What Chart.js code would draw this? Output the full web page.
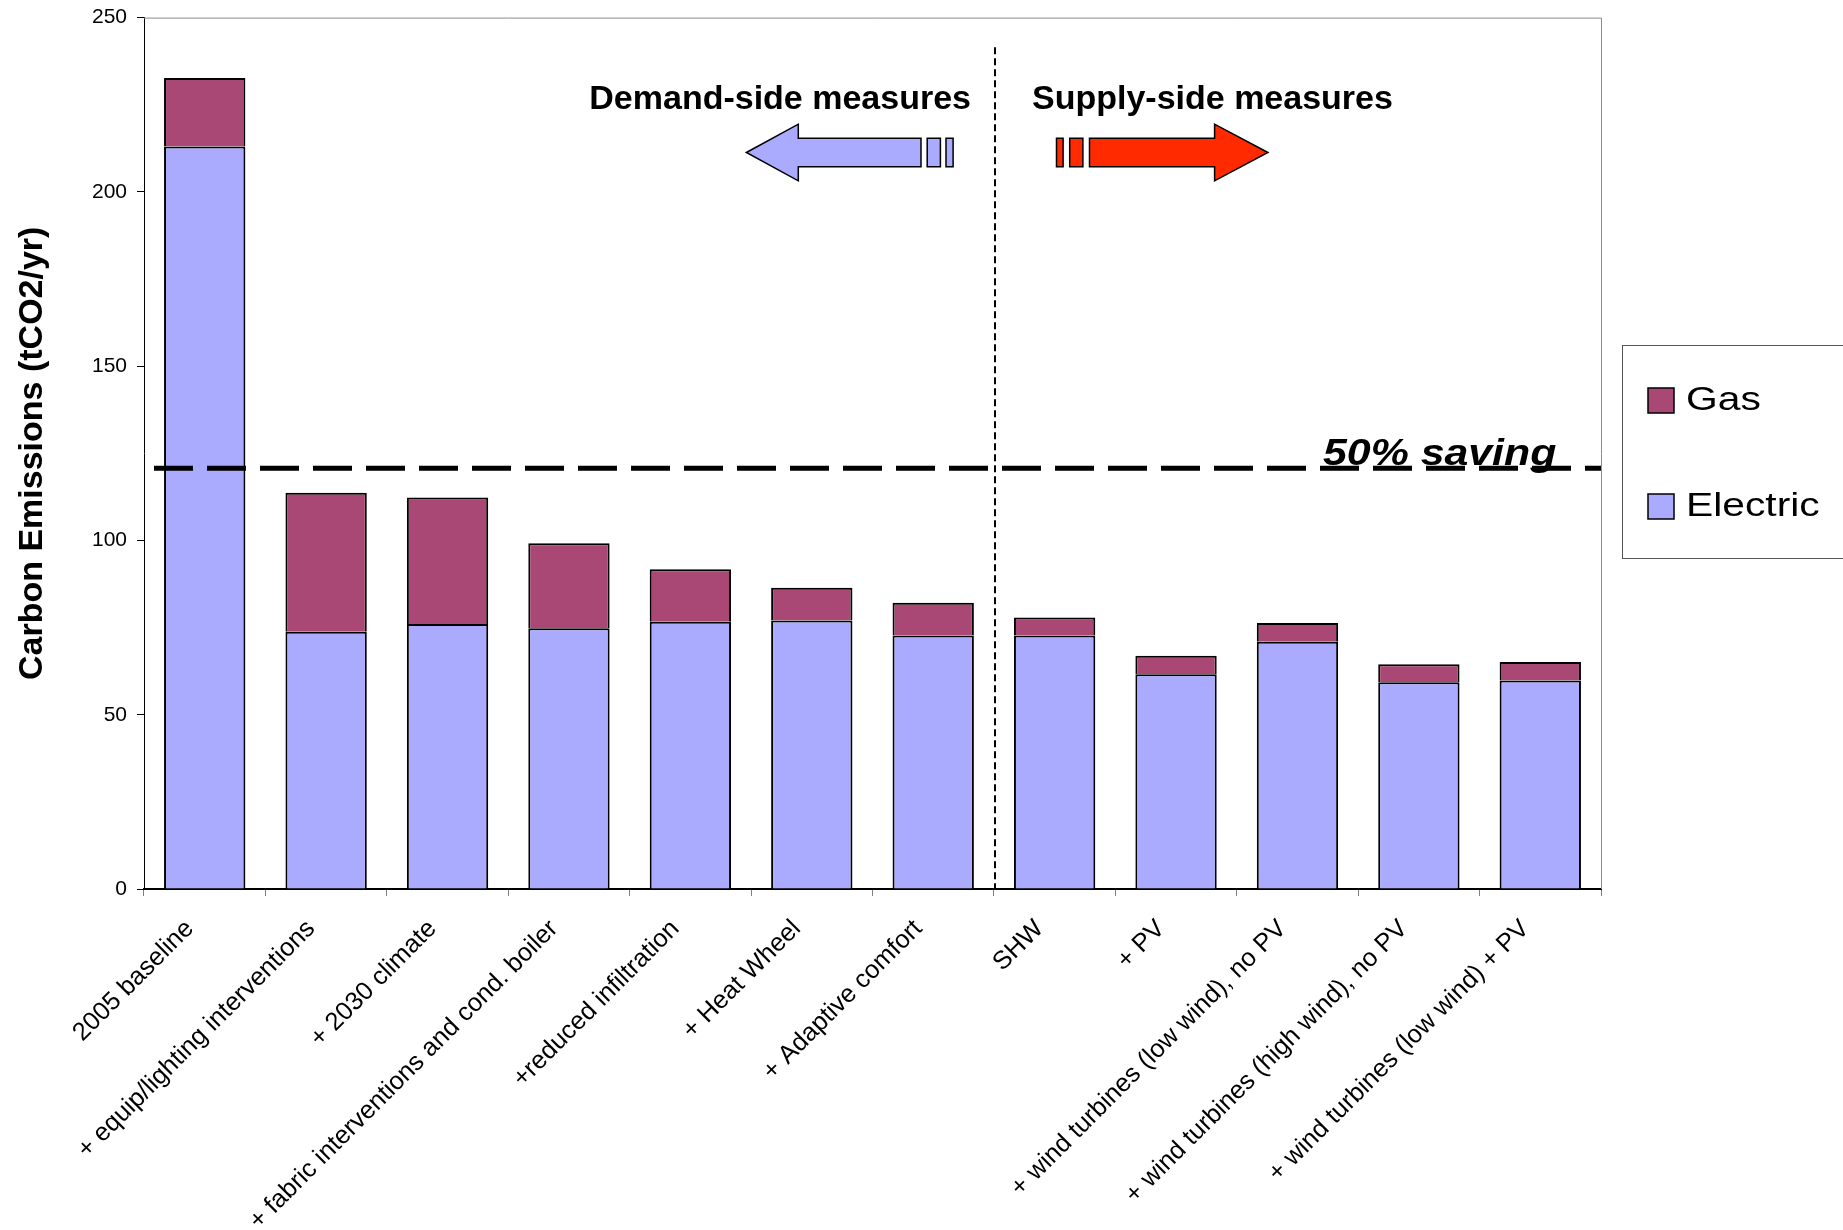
<!DOCTYPE html>
<html>
<head>
<meta charset="utf-8">
<title>Carbon emissions by measure</title>
<script src="https://cdn.jsdelivr.net/npm/chart.js@4.4.1/dist/chart.umd.min.js"></script>
<style>
  html, body { margin: 0; padding: 0; background: #fff; }
  canvas { display: block; }
</style>
</head>
<body>
<canvas id="chart-emissions" width="1843" height="1230"></canvas>
<script>
'use strict';
/* ═══════════════════════════════════════════════════════════════════════════
   Carbon emissions (tCO2/yr) — stacked bars, electric + gas, per measure
   ═══════════════════════════════════════════════════════════════════════════ */

const CATEGORIES = [
  '2005 baseline',
  '+ equip/lighting interventions',
  '+ 2030 climate',
  '+ fabric interventions and cond. boiler',
  '+reduced infiltration',
  '+ Heat Wheel',
  '+ Adaptive comfort',
  'SHW',
  '+ PV',
  '+ wind turbines (low wind), no PV',
  '+ wind turbines (high wind), no PV',
  '+ wind turbines (low wind) + PV',
];
const ELECTRIC = [213.0, 73.8, 76.0, 74.8, 76.7, 77.0, 72.7, 72.7, 61.6, 70.9, 59.3, 59.8];
const GAS      = [19.7, 39.9, 36.3, 24.4, 15.0, 9.4, 9.4, 5.2, 5.3, 5.4, 5.2, 5.3];
const Y_TICKS  = [0, 50, 100, 150, 200, 250];
const SAVING_LINE   = 120.7;   // "50% saving" level
const DIVIDER_AFTER = 6;       // demand-side ends after "+ Adaptive comfort"

const FONT = "'Liberation Sans', Arial, Helvetica, sans-serif";
const COLORS = { electric: '#aaaaff', gas: '#a94875', supply: '#ff2a00' };

// ─── helpers ──────────────────────────────────────────────────────────────
function polygon(ctx, pts, fill) {
  ctx.beginPath();
  pts.forEach(([px, py], i) => (i ? ctx.lineTo(px, py) : ctx.moveTo(px, py)));
  ctx.closePath();
  ctx.fillStyle = fill;
  ctx.fill();
  ctx.stroke();
}

function stretchedText(ctx, text, px, py, sx) {
  ctx.save();
  ctx.translate(px, py);
  ctx.scale(sx, 1);
  ctx.fillText(text, 0, 0);
  ctx.restore();
}

// ─── annotations: frame, divider, arrows, 50% line, legend ───────────────
const overlay = {
  id: 'overlay',
  afterDraw(chart) {
    const { ctx, chartArea: a, scales: { x, y } } = chart;
    ctx.save();

    // top / right frame
    ctx.strokeStyle = '#8c8c8c';
    ctx.lineWidth = 1;
    ctx.beginPath();
    ctx.moveTo(a.left, a.top + 0.5);
    ctx.lineTo(a.right + 0.5, a.top + 0.5);
    ctx.lineTo(a.right + 0.5, a.bottom);
    ctx.stroke();

    // demand / supply divider
    const divX = Math.round((x.getPixelForValue(DIVIDER_AFTER) + x.getPixelForValue(DIVIDER_AFTER + 1)) / 2) + 1;
    ctx.strokeStyle = '#000';
    ctx.lineWidth = 2;
    ctx.setLineDash([7, 4]);
    ctx.beginPath();
    ctx.moveTo(divX, y.getPixelForValue(241.5));
    ctx.lineTo(divX, a.bottom);
    ctx.stroke();

    // 50% saving line
    const sy = y.getPixelForValue(SAVING_LINE);
    ctx.lineWidth = 5;
    ctx.setLineDash([39, 14]);
    ctx.beginPath();
    ctx.moveTo(a.left + 10, sy);
    ctx.lineTo(a.right, sy);
    ctx.stroke();
    ctx.setLineDash([]);

    ctx.fillStyle = '#000';
    ctx.font = `italic bold 36px ${FONT}`;
    ctx.textAlign = 'left';
    ctx.textBaseline = 'alphabetic';
    stretchedText(ctx, '50% saving', a.right - 278, sy - 3, 1.19);

    // headings
    const cy = y.getPixelForValue(211.3);
    ctx.font = `bold 34px ${FONT}`;
    ctx.textAlign = 'right';
    ctx.fillText('Demand-side measures', divX - 24, cy - 43);
    ctx.textAlign = 'left';
    ctx.fillText('Supply-side measures', divX + 37, cy - 43);

    // arrows
    ctx.strokeStyle = '#000';
    ctx.lineWidth = 1.5;
    ctx.lineJoin = 'miter';
    const sh = 14.3, hh = 28.3;
    polygon(ctx, [
      [divX - 248.6, cy], [divX - 196.7, cy - hh], [divX - 196.7, cy - sh], [divX - 74, cy - sh],
      [divX - 74, cy + sh], [divX - 196.7, cy + sh], [divX - 196.7, cy + hh],
    ], COLORS.electric);
    polygon(ctx, [[divX - 67.8, cy - sh], [divX - 54.6, cy - sh], [divX - 54.6, cy + sh], [divX - 67.8, cy + sh]], COLORS.electric);
    polygon(ctx, [[divX - 49, cy - sh], [divX - 41.9, cy - sh], [divX - 41.9, cy + sh], [divX - 49, cy + sh]], COLORS.electric);

    polygon(ctx, [[divX + 61.5, cy - sh], [divX + 68.1, cy - sh], [divX + 68.1, cy + sh], [divX + 61.5, cy + sh]], COLORS.supply);
    polygon(ctx, [[divX + 74.7, cy - sh], [divX + 87.9, cy - sh], [divX + 87.9, cy + sh], [divX + 74.7, cy + sh]], COLORS.supply);
    polygon(ctx, [
      [divX + 272.9, cy], [divX + 219.6, cy - hh], [divX + 219.6, cy - sh], [divX + 94.5, cy - sh],
      [divX + 94.5, cy + sh], [divX + 219.6, cy + sh], [divX + 219.6, cy + hh],
    ], COLORS.supply);

    // legend box (runs off the right edge, as in the original)
    const lx = a.right + 21, ly = 345, lh = 213;
    ctx.strokeStyle = '#555';
    ctx.lineWidth = 1;
    ctx.strokeRect(lx + 0.5, ly + 0.5, chart.width, lh);

    const entries = [...chart.data.datasets].reverse();
    entries.forEach((ds, i) => {
      const ey = ly + 55 + i * 106;
      ctx.fillStyle = ds.backgroundColor;
      ctx.fillRect(lx + 26, ey - 12, 26, 25);
      ctx.strokeStyle = '#000';
      ctx.lineWidth = 1.5;
      ctx.strokeRect(lx + 26, ey - 12, 26, 25);
      ctx.fillStyle = '#000';
      ctx.font = `34px ${FONT}`;
      ctx.textAlign = 'left';
      ctx.textBaseline = 'middle';
      stretchedText(ctx, ds.label, lx + 64, ey + 1, 1.2);
    });

    ctx.restore();
  },
};

// ─── chart ────────────────────────────────────────────────────────────────
const barStyle = { borderColor: '#000', borderWidth: 2, barPercentage: 0.67, categoryPercentage: 1 };

new Chart(document.getElementById('chart-emissions'), {
  type: 'bar',
  data: {
    labels: CATEGORIES,
    datasets: [
      { label: 'Electric', data: ELECTRIC, backgroundColor: COLORS.electric, ...barStyle },
      { label: 'Gas',      data: GAS,      backgroundColor: COLORS.gas,      ...barStyle },
    ],
  },
  options: {
    responsive: false,
    animation: false,
    layout: { padding: { left: 0, right: 242, top: 17.6, bottom: 0 } },
    plugins: { legend: { display: false }, tooltip: { enabled: false } },
    scales: {
      x: {
        stacked: true,
        afterFit: s => { s.height = 341; },
        grid: { offset: true, drawOnChartArea: false, tickLength: 7, tickColor: '#808080' },
        border: { color: '#000', width: 2 },
        ticks: {
          autoSkip: false, maxRotation: 45, minRotation: 45, padding: 18, labelOffset: -15,
          color: '#000', font: { family: FONT, size: 25.5 },
        },
      },
      y: {
        stacked: true,
        min: Y_TICKS[0],
        max: Y_TICKS[Y_TICKS.length - 1],
        afterFit: s => { s.width = 144; s.paddingTop = 0; s.paddingBottom = 0; },
        afterBuildTicks: s => { s.ticks = Y_TICKS.map(v => ({ value: v })); },
        grid: { drawOnChartArea: false, tickLength: 7, tickColor: '#000' },
        border: { color: '#000', width: 1 },
        ticks: { padding: 10, color: '#000', font: { family: FONT, size: 21 } },
        title: {
          display: true,
          text: 'Carbon Emissions (tCO2/yr)',
          color: '#000',
          font: { family: FONT, size: 34, weight: 'bold' },
          padding: { top: 12, bottom: 0 },
        },
      },
    },
  },
  plugins: [overlay],
});
</script>
</body>
</html>
